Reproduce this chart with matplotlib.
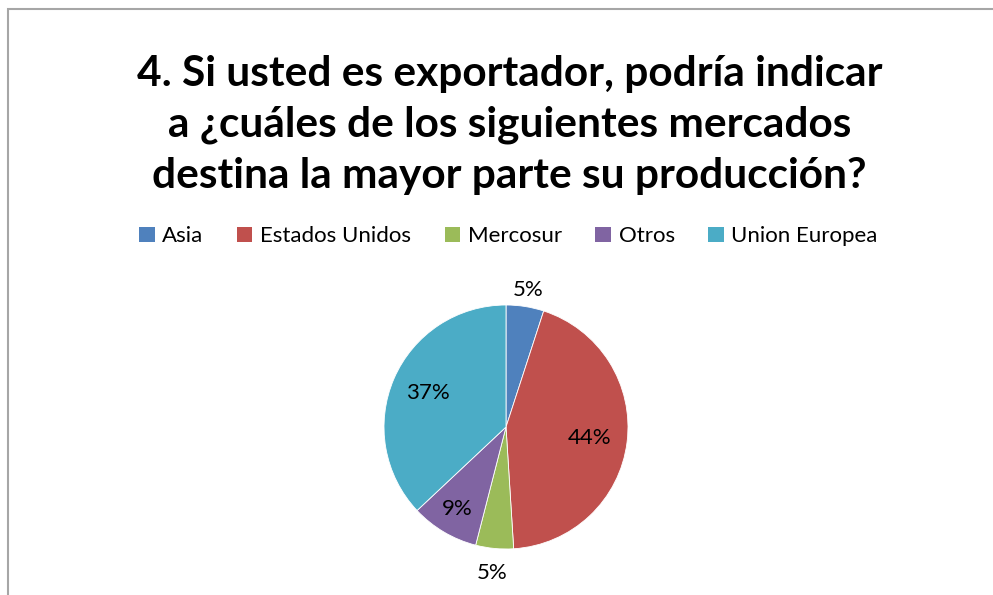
import numpy as np
import matplotlib.pyplot as plt
from matplotlib.patches import Rectangle, Patch

# Data
categories = ['Asia', 'Estados Unidos', 'Mercosur', 'Otros', 'Union Europea']
shares = [5, 44, 5, 9, 37]
colors = ['#4f81bd', '#c0504d', '#9bbb59', '#8064a2', '#4bacc6']
# distance of each percent label from the centre (fraction of radius)
label_dist = [1.14, 0.69, 1.2, 0.78, 0.70]

plt.rcParams['font.family'] = ['Lato', 'DejaVu Sans']

fig = plt.figure(figsize=(9.93, 5.95), dpi=100)

# outer chart frame (cut off at right/bottom like the screenshot)
fig.patches.append(Rectangle((8 / 993, -0.05), 1.2, 1 - 9 / 595 + 0.05,
                             transform=fig.transFigure, fill=False,
                             edgecolor='#a6a6a6', linewidth=1.5))

fig.text(0.513, 0.79,
         '4. Si usted es exportador, podría indicar\n'
         'a ¿cuáles de los siguientes mercados\n'
         'destina la mayor parte su producción?',
         ha='center', va='center', fontsize=30.5, fontweight='bold',
         linespacing=1.42)

handles = [Patch(facecolor=c, edgecolor='none') for c in colors]
fig.legend(handles, categories, loc='center', bbox_to_anchor=(0.512, 0.603),
           ncol=5, frameon=False, fontsize=16, handlelength=0.7,
           handleheight=0.7, handletextpad=0.35, columnspacing=1.5)

# pie: centre ~ (506, 427) px, radius ~ 122 px
r_px = 122
ax = fig.add_axes([(506 - r_px) / 993, 1 - (427 + r_px) / 595,
                   2 * r_px / 993, 2 * r_px / 595])
wedges, _ = ax.pie(shares, colors=colors, startangle=90, counterclock=False,
                   wedgeprops=dict(edgecolor='white', linewidth=0.6))
ax.set_xlim(-1, 1)
ax.set_ylim(-1, 1)
ax.axis('off')

for w, s, d in zip(wedges, shares, label_dist):
    ang = np.deg2rad((w.theta1 + w.theta2) / 2)
    ax.text(d * np.cos(ang), d * np.sin(ang), f'{s}%', ha='center',
            va='center', fontsize=16, clip_on=False)

fig.savefig('out.png', dpi=100)
